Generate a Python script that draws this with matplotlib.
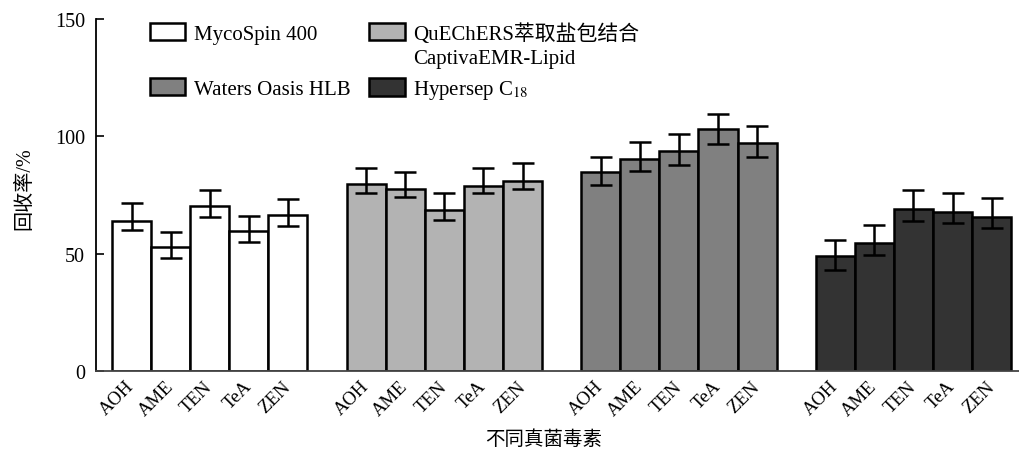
import matplotlib
matplotlib.use('Agg')
import matplotlib.pyplot as plt
from matplotlib.patches import Patch
import numpy as np

plt.rcParams['font.family'] = ['Liberation Serif', 'Noto Sans CJK SC']
plt.rcParams['mathtext.fontset'] = 'stix'

toxins = ['AOH', 'AME', 'TEN', 'TeA', 'ZEN']
methods = ['MycoSpin 400', 'QuEChERS萃取盐包结合', 'Waters Oasis HLB', 'Hypersep C$_{18}$']
colors = ['#ffffff', '#b3b3b3', '#808080', '#333333']

# recovery (%) per method, one value per toxin
mycospin = [64.1, 52.7, 70.2, 59.5, 66.6]
quechers = [79.7, 77.5, 68.7, 79.0, 81.1]
oasis = [84.7, 90.3, 93.7, 103.1, 97.0]
hypersep = [49.1, 54.4, 69.0, 67.6, 65.7]

# error bars: upper / lower part
mycospin_hi = [7.5, 6.4, 6.8, 6.7, 6.7]
mycospin_lo = [4.0, 4.6, 4.4, 4.7, 4.7]
quechers_hi = [6.7, 7.2, 7.1, 7.4, 7.4]
quechers_lo = [4.0, 3.5, 4.2, 3.3, 3.6]
oasis_hi = [6.6, 7.1, 7.2, 6.4, 7.2]
oasis_lo = [5.3, 5.2, 5.8, 6.4, 5.7]
hypersep_hi = [6.8, 7.8, 8.1, 8.1, 8.0]
hypersep_lo = [5.9, 5.0, 5.0, 4.7, 4.9]

values = [mycospin, quechers, oasis, hypersep]
err_hi = [mycospin_hi, quechers_hi, oasis_hi, hypersep_hi]
err_lo = [mycospin_lo, quechers_lo, oasis_lo, hypersep_lo]

fig = plt.figure(figsize=(10.19, 4.52), dpi=100)
ax = fig.add_axes([96/1019, 80/452, 923/1019, 352/452])

handles = []
xt = []
for g in range(len(methods)):
    x = np.arange(len(toxins)) + g * 6
    ax.bar(x, values[g], width=1.0, color=colors[g], edgecolor='black',
           linewidth=1.8, zorder=2)
    ax.errorbar(x, values[g], yerr=[err_lo[g], err_hi[g]], fmt='none',
                ecolor='black', elinewidth=1.8, capsize=8, capthick=1.8, zorder=3)
    xt.extend(x)
    handles.append(Patch(facecolor=colors[g], edgecolor='black', linewidth=1.8))

ax.set_xlim(-0.91, 22.7)
ax.set_ylim(0, 150)
ax.set_yticks([0, 50, 100, 150])
ax.set_xticks(xt)
ax.set_xticklabels(toxins * 4, rotation=45, ha='right', va='center',
                   rotation_mode='anchor', fontsize=13.5)
ax.tick_params(axis='x', length=0, pad=9)
ax.tick_params(axis='y', direction='in', length=6, width=1.2, labelsize=14.5, pad=8)
for s in ['top', 'right']:
    ax.spines[s].set_visible(False)
ax.spines['left'].set_linewidth(1.3)
ax.spines['bottom'].set_linewidth(1.3)
ax.spines['bottom'].set_color('#444444')

ax.set_ylabel('回收率/%', fontsize=14.5)
ax.yaxis.set_label_coords(-0.067, 0.521)
ax.set_xlabel('不同真菌毒素', fontsize=14)
ax.xaxis.set_label_coords(0.485, -0.165)

order = [0, 2, 1, 3]
leg = ax.legend([handles[i] for i in order], [methods[i] for i in order], ncol=2,
                loc='upper left', bbox_to_anchor=(54/923, 0.989), frameon=False,
                fontsize=15, handlelength=1.7, handleheight=0.9, handletextpad=0.4,
                labelspacing=1.65, columnspacing=0.9, borderpad=0, borderaxespad=0)
# second line of the QuEChERS entry
ax.annotate('CaptivaEMR-Lipid', xy=(0, 0), xycoords=leg.get_texts()[2],
            xytext=(0, -4), textcoords='offset points', va='top', ha='left',
            fontsize=15, zorder=10)

fig.savefig('out.png', dpi=100)
